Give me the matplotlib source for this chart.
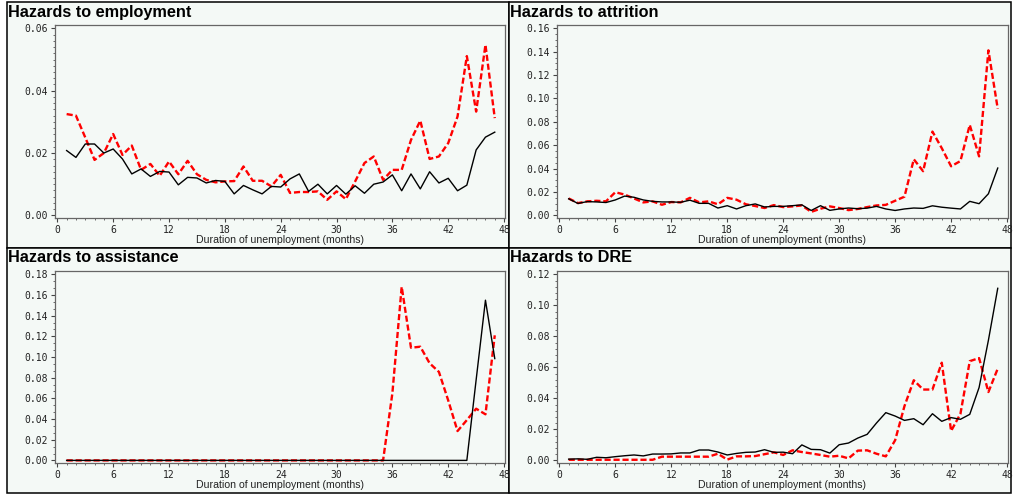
import matplotlib
matplotlib.use("Agg")
import matplotlib.pyplot as plt
from matplotlib.patches import Rectangle
from matplotlib.ticker import MultipleLocator, FormatStrFormatter

# ---------------------------------------------------------------- data
months = list(range(1, 48))

employment_solid = [0.0208, 0.0186, 0.0229, 0.0229, 0.0200, 0.0213, 0.0181, 0.0133, 0.0149, 0.0125,
                    0.0141, 0.0139, 0.0098, 0.0122, 0.0120, 0.0104, 0.0112, 0.0109, 0.0069, 0.0096,
                    0.0082, 0.0069, 0.0093, 0.0091, 0.0117, 0.0133, 0.0077, 0.0100, 0.0069, 0.0096,
                    0.0068, 0.0095, 0.0071, 0.0100, 0.0107, 0.0130, 0.0079, 0.0133, 0.0085, 0.0140,
                    0.0104, 0.0119, 0.0079, 0.0097, 0.0210, 0.0251, 0.0267]
employment_dashed = [0.0325, 0.0320, 0.0250, 0.0178, 0.0200, 0.0261, 0.0194, 0.0224, 0.0146, 0.0165,
                     0.0127, 0.0173, 0.0132, 0.0175, 0.0132, 0.0114, 0.0106, 0.0109, 0.0110, 0.0157,
                     0.0111, 0.0111, 0.0093, 0.0130, 0.0072, 0.0075, 0.0075, 0.0077, 0.0050, 0.0077,
                     0.0052, 0.0109, 0.0168, 0.0189, 0.0114, 0.0146, 0.0146, 0.0242, 0.0304, 0.0181,
                     0.0189, 0.0232, 0.0317, 0.0511, 0.0333, 0.0547, 0.0312]

attrition_solid = [0.0142, 0.0102, 0.0118, 0.0115, 0.0110, 0.0132, 0.0165, 0.0155, 0.0132, 0.0120,
                   0.0115, 0.0115, 0.0112, 0.0130, 0.0103, 0.0103, 0.0063, 0.0083, 0.0055, 0.0083,
                   0.0098, 0.0072, 0.0077, 0.0077, 0.0083, 0.0090, 0.0042, 0.0083, 0.0043, 0.0055,
                   0.0063, 0.0057, 0.0062, 0.0077, 0.0055, 0.0042, 0.0055, 0.0063, 0.0060, 0.0082,
                   0.0070, 0.0062, 0.0055, 0.0120, 0.0100, 0.0185, 0.0405]
attrition_dashed = [0.0145, 0.0105, 0.0120, 0.0125, 0.0120, 0.0198, 0.0178, 0.0145, 0.0111, 0.0120,
                    0.0091, 0.0114, 0.0111, 0.0150, 0.0111, 0.0120, 0.0095, 0.0150, 0.0134, 0.0095,
                    0.0080, 0.0063, 0.0088, 0.0071, 0.0077, 0.0085, 0.0030, 0.0057, 0.0077, 0.0063,
                    0.0045, 0.0055, 0.0071, 0.0085, 0.0090, 0.0125, 0.0160, 0.0480, 0.0378, 0.0717,
                    0.0575, 0.0420, 0.0465, 0.0774, 0.0505, 0.1412, 0.0912]

assistance_solid = [0.0] * 44 + [0.078, 0.155, 0.0985]
assistance_dashed = [0.0] * 35 + [0.065, 0.168, 0.109, 0.110, 0.094, 0.0856, 0.058, 0.0284,
                                  0.039, 0.050, 0.0446, 0.121]

dre_solid = [0.0008, 0.0010, 0.0007, 0.0020, 0.0017, 0.0024, 0.0030, 0.0035, 0.0029, 0.0041,
             0.0041, 0.0042, 0.0048, 0.0048, 0.0067, 0.0067, 0.0054, 0.0035, 0.0045, 0.0052,
             0.0054, 0.0069, 0.0052, 0.0053, 0.0043, 0.0100, 0.0071, 0.0069, 0.0047, 0.0101,
             0.0112, 0.0144, 0.0168, 0.0241, 0.0308, 0.0286, 0.0258, 0.0269, 0.0230, 0.0301,
             0.0252, 0.0276, 0.0265, 0.0297, 0.0470, 0.0775, 0.1110]
dre_dashed = [0.0004] * 10 + [0.0024] * 6 + [
              0.0043, 0.0005, 0.0026, 0.0026, 0.0028, 0.0040, 0.0052, 0.0035, 0.0065, 0.0054,
              0.0045, 0.0035, 0.0024, 0.0030, 0.0013, 0.0063, 0.0065, 0.0043, 0.0026, 0.0130,
              0.0350, 0.0517, 0.0457, 0.0457, 0.0630, 0.0190, 0.0300, 0.0640, 0.0660, 0.0441,
              0.0592]

titles = ["Hazards to employment", "Hazards to attrition",
          "Hazards to assistance", "Hazards to DRE"]
y_max = [0.06, 0.16, 0.18, 0.12]
x_label = "Duration of unemployment (months)"

# ---------------------------------------------------------------- layout
W, H = 1014, 501
fig = plt.figure(figsize=(W / 100, H / 100), dpi=100)
fig.patch.set_facecolor("white")

PANEL_BG = "#f4f9f6"


def fx(px):
    return px / W


def fy(py):
    return 1 - py / H


# outer panel boxes (left, top, right, bottom) in pixels
panel_boxes = [(7, 2, 509, 248), (509, 2, 1011, 248),
               (7, 248, 509, 493), (509, 248, 1011, 493)]
for (x0, y0, x1, y1) in panel_boxes:
    fig.add_artist(Rectangle((fx(x0), fy(y1)), (x1 - x0) / W, (y1 - y0) / H,
                             transform=fig.transFigure, facecolor=PANEL_BG,
                             edgecolor="black", linewidth=1.1, zorder=0))

# plot frames (left, top, right, bottom) in pixels
frames = [(55, 25, 505, 218), (557, 25, 1008, 218),
          (55, 271, 505, 463), (557, 271, 1008, 463)]
title_pos = [(8, 16.7), (510, 16.7), (8, 262.3), (510, 262.3)]
series = [(employment_solid, employment_dashed),
          (attrition_solid, attrition_dashed),
          (assistance_solid, assistance_dashed),
          (dre_solid, dre_dashed)]

for i in range(4):
    l, t, r, b = frames[i]
    ax = fig.add_axes([fx(l), fy(b), (r - l) / W, (b - t) / H])
    ax.set_facecolor(PANEL_BG)
    solid, dashed = series[i]
    ymax = y_max[i]

    ax.plot(months, solid, color="black", lw=1.0, zorder=3)
    ax.plot(months, dashed, color="#ff0000", lw=1.7,
            linestyle=(0, (2.6, 1.2)), zorder=2)

    ax.set_xlim(-0.25, 48.1)
    ax.set_ylim(-0.014 * ymax, 1.018 * ymax)

    ax.xaxis.set_major_locator(MultipleLocator(6))
    ax.xaxis.set_minor_locator(MultipleLocator(1))
    ax.yaxis.set_major_locator(MultipleLocator(0.02))
    px_per_major = (b - t) / (1.032 * ymax) * 0.02
    n_minor = max(2, int(round(px_per_major / 6.0)))
    ax.yaxis.set_minor_locator(MultipleLocator(0.02 / n_minor))
    ax.yaxis.set_major_formatter(FormatStrFormatter("%.2f"))
    ax.xaxis.set_major_formatter(FormatStrFormatter("%d"))

    ax.tick_params(which="major", length=3.0, width=0.8, color="#444444",
                   labelsize=7, pad=2, labelcolor="#222222")
    ax.tick_params(which="minor", length=1.6, width=0.6, color="#555555")
    for lab in ax.get_xticklabels() + ax.get_yticklabels():
        lab.set_fontfamily("DejaVu Sans Mono")

    for s in ax.spines.values():
        s.set_color("#666666")
        s.set_linewidth(0.9)

    ax.text(0.5, -(240 - 218) / (b - t), x_label, transform=ax.transAxes,
            ha="center", va="center", fontsize=7.6, family="Liberation Sans",
            color="#222222")

    tx, ty = title_pos[i]
    fig.text(fx(tx), fy(ty), titles[i], ha="left", va="baseline",
             fontsize=11.7, fontweight="bold", family="Liberation Sans",
             color="black")

fig.savefig("out.png", dpi=100, facecolor="white")
